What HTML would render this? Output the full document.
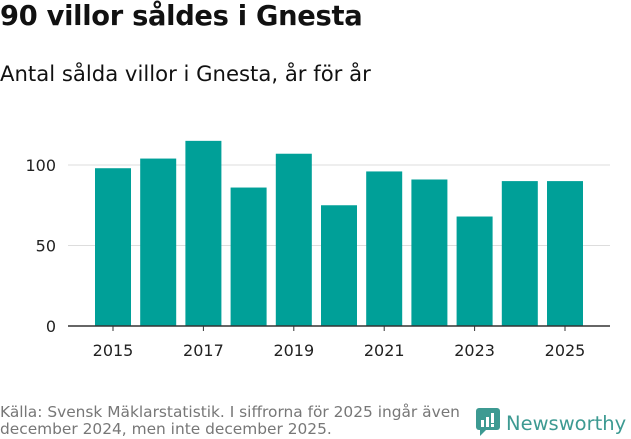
<!DOCTYPE html>
<html><head><meta charset="utf-8"><style>
body{margin:0;width:631px;height:439px;background:#fff;font-family:"DejaVu Sans","Liberation Sans",sans-serif;overflow:hidden;position:relative;color:#111}
.t{position:absolute;left:0;top:1px;font-size:27.3px;font-weight:bold;letter-spacing:-0.3px}
.s{position:absolute;left:0;top:61px;font-size:21.2px}
.f{position:absolute;left:0;top:404px;font-size:15.4px;color:#777;line-height:17px}
.logo{position:absolute;left:476px;top:408px;font-size:19.5px;color:#3d9a92;font-weight:500}
</style></head><body>
<div class="t">90 villor såldes i Gnesta</div>
<div class="s">Antal sålda villor i Gnesta, år för år</div>
<svg id="c" width="631" height="439" style="position:absolute;left:0;top:0"></svg>
<div class="f">Källa: Svensk Mäklarstatistik. I siffrorna för 2025 ingår även<br>december 2024, men inte december 2025.</div>
<div class="logo"><svg width="24" height="28" style="vertical-align:-6px;margin-right:6px"><rect x="0" y="0" width="24" height="22" rx="3" fill="#3d9a92"/><polygon points="4,22 10,22 4,28" fill="#3d9a92"/><rect x="5" y="12" width="3" height="7" fill="#fff"/><rect x="10" y="9" width="3" height="10" fill="#fff"/><rect x="15" y="5" width="3" height="10" fill="#fff"/><rect x="15" y="16" width="3" height="3" fill="#fff"/></svg>Newsworthy</div>
<script>
const years=[2015,2016,2017,2018,2019,2020,2021,2022,2023,2024,2025];
const values=[98,104,115,86,107,75,96,91,68,90,90];
const yTicks=[0,50,100];
const xLabels=[2015,2017,2019,2021,2023,2025];
const svg=document.getElementById('c');const NS='http://www.w3.org/2000/svg';
const y=v=>326-v*1.61;
const x=yr=>113+(yr-2015)*45.2;
function mk(t,a){const e=document.createElementNS(NS,t);for(const k in a)e.setAttribute(k,a[k]);svg.appendChild(e);return e;}
yTicks.forEach(v=>{
 if(v>0){const l=mk('line',{x1:68,x2:610,y1:y(v),y2:y(v),stroke:'#ddd'});
 
 }
 const t=mk('text',{x:56,y:y(v)+6,'text-anchor':'end','font-size':16,fill:'#222','font-family':'DejaVu Sans, sans-serif'});t.textContent=v;
 
 
});
years.forEach((yr,i)=>{
 const r=mk('rect',{x:x(yr)-18,y:y(values[i]),width:36,height:326-y(values[i]),fill:'#00a098'});
 
 
});
const ax=mk('line',{x1:68,x2:610,y1:326,y2:326,stroke:'#333','stroke-width':1.5});


xLabels.forEach(yr=>{
 const tk=mk('line',{x1:x(yr),x2:x(yr),y1:326,y2:331,stroke:'#333'});
 
 
 const t=mk('text',{x:x(yr),y:356,'text-anchor':'middle','font-size':16,fill:'#222','font-family':'DejaVu Sans, sans-serif'});t.textContent=yr;
 
 
});
</script>
</body></html>
